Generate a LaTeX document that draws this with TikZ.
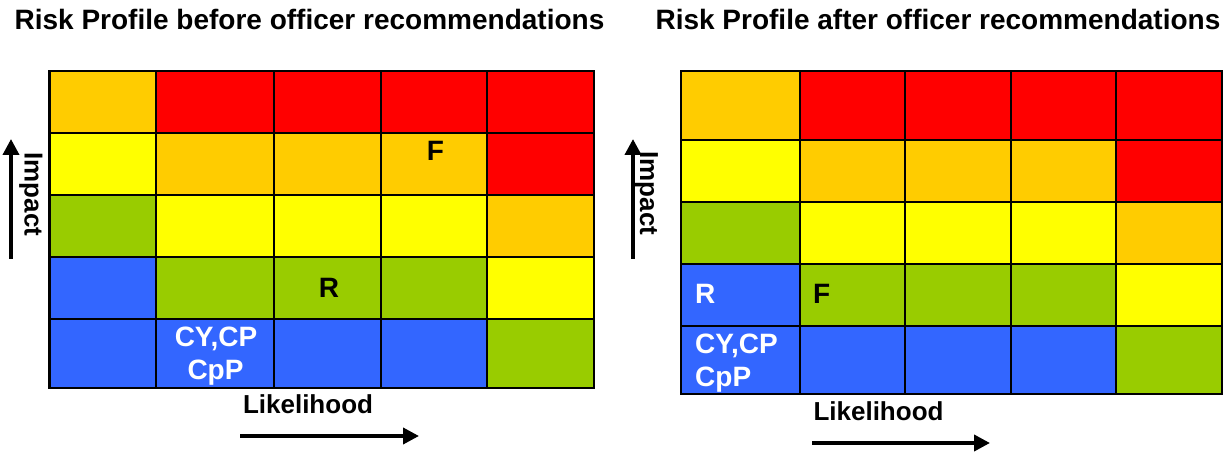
\documentclass[tikz,border=0pt]{standalone}
\usepackage{fontspec}
\setmainfont{Liberation Sans}
\usetikzlibrary{arrows.meta}
\definecolor{rOrange}{HTML}{FFCC00}
\definecolor{rRed}{HTML}{FF0000}
\definecolor{rYellow}{HTML}{FFFF00}
\definecolor{rGreen}{HTML}{99CC00}
\definecolor{rBlue}{HTML}{3366FF}
\begin{document}
\begin{tikzpicture}[x=1pt,y=-1pt,
  cell/.style={draw=black, line width=2.6pt, inner sep=0pt, outer sep=0pt, anchor=north west},
  ttl/.style={font=\bfseries\fontsize{28}{32}\selectfont, inner sep=0pt, anchor=base},
  axlbl/.style={font=\bfseries\fontsize{26}{30}\selectfont, inner sep=0pt, anchor=base},
  celltxt/.style={font=\bfseries\fontsize{28}{32}\selectfont, inner sep=0pt},
  arr/.style={line width=3.8pt, -{Triangle[width=16pt,length=16pt]}}
]
\useasboundingbox[fill=white] (0,0) rectangle (1224,454);

\def\LX{{49.5,156,274,381,487,594}}
\def\LY{{71,133,195,257,319,388}}
\def\RX{{681,800,905,1011,1116,1222}}
\def\RY{{71,140,202,264,326,394}}
\foreach \rowcols [count=\r from 0] in {
  {rOrange,rRed,rRed,rRed,rRed},
  {rYellow,rOrange,rOrange,rOrange,rRed},
  {rGreen,rYellow,rYellow,rYellow,rOrange},
  {rBlue,rGreen,rGreen,rGreen,rYellow},
  {rBlue,rBlue,rBlue,rBlue,rGreen}}{
  \foreach \cc [count=\c from 0] in \rowcols {
    \pgfmathsetmacro\xa{\LX[\c]}
    \pgfmathsetmacro\xb{\LX[\c+1]}
    \pgfmathsetmacro\ya{\LY[\r]}
    \pgfmathsetmacro\yb{\LY[\r+1]}
    \pgfmathsetmacro\ww{\xb-\xa}
    \pgfmathsetmacro\hh{\yb-\ya}
    \node[cell, fill=\cc, minimum width=\ww pt, minimum height=\hh pt] (L\r\c) at (\xa,\ya) {};
    \pgfmathsetmacro\xa{\RX[\c]}
    \pgfmathsetmacro\xb{\RX[\c+1]}
    \pgfmathsetmacro\ya{\RY[\r]}
    \pgfmathsetmacro\yb{\RY[\r+1]}
    \pgfmathsetmacro\ww{\xb-\xa}
    \pgfmathsetmacro\hh{\yb-\ya}
    \node[cell, fill=\cc, minimum width=\ww pt, minimum height=\hh pt] (R\r\c) at (\xa,\ya) {};
  }
}

% titles
\node[ttl] (tL) at (309.5,30) {Risk Profile before officer recommendations};
\node[ttl] (tR) at (938,30) {Risk Profile after officer recommendations};

% left cell texts
\node[celltxt, anchor=base] (lF) at (435.5,161) {F};
\node[celltxt, anchor=base] (lR) at (329,298) {R};
\node[celltxt, anchor=base, text=white] (lCY) at (216,347) {CY,CP};
\node[celltxt, anchor=base, text=white] (lCpP) at (215.5,379) {CpP};

% right cell texts
\node[celltxt, anchor=base west, text=white] (rR) at (695,304) {R};
\node[celltxt, anchor=base west] (rF) at (813,304) {F};
\node[celltxt, anchor=base west, text=white] (rCY) at (695,354) {CY,CP};
\node[celltxt, anchor=base west, text=white] (rCpP) at (695,386) {CpP};

% axis labels
\node[axlbl] (xL) at (308,413) {Likelihood};
\node[axlbl] (xR) at (878.5,420) {Likelihood};
\node[axlbl, rotate=-90] (yL) at (24.5,194.5) {Impact};
\node[axlbl, rotate=-90] (yR) at (640,193.5) {Impact};

% arrows
\coordinate (aL1) at (11,259);
\coordinate (aL2) at (11,139);
\coordinate (aR1) at (633,259);
\coordinate (aR2) at (633,139);
\coordinate (bL1) at (240,436);
\coordinate (bL2) at (419,436);
\coordinate (bR1) at (812,443);
\coordinate (bR2) at (990,443);
\draw[arr] (aL1) -- (aL2);
\draw[arr] (aR1) -- (aR2);
\draw[arr] (bL1) -- (bL2);
\draw[arr] (bR1) -- (bR2);
\end{tikzpicture}
\end{document}
